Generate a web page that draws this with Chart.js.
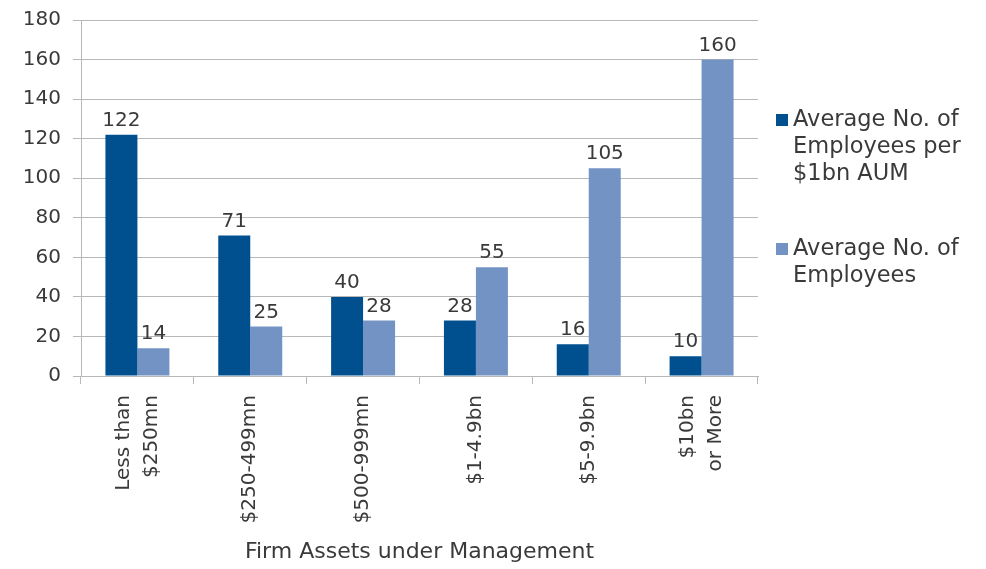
<!DOCTYPE html>
<html>
<head>
<meta charset="utf-8">
<script src="https://cdn.jsdelivr.net/npm/chart.js@4/dist/chart.umd.min.js"></script>
<style>
  html, body { margin: 0; padding: 0; background: #fff; }
  #wrap { position: relative; width: 986px; height: 569px; }
  #chart { position: absolute; left: 0; top: 0; }
  .leg { position: absolute; left: 776px; font-family: "DejaVu Sans", sans-serif; font-size: 22.5px; line-height: 27px; color: #3a3a3a; }
  .leg .box { position: absolute; left: 0; top: 9px; width: 12px; height: 12px; }
  .leg .txt { margin-left: 17px; white-space: nowrap; }
</style>
</head>
<body>
<div id="wrap">
  <canvas id="chart" width="986" height="569"></canvas>
  <div id="legend"></div>
</div>
<script>
const categories = [['Less than', '$250mn'], '$250-499mn', '$500-999mn', '$1-4.9bn', '$5-9.9bn', ['$10bn', 'or More']];
const perBillion = [122, 71, 40, 28, 16, 10];
const employees = [14, 25, 28, 55, 105, 160];
const seriesNames = [['Average No. of', 'Employees per', '$1bn AUM'], ['Average No. of', 'Employees']];
const colors = ['#00508F', '#7393C4'];
const axisTitle = 'Firm Assets under Management';

const textColor = '#3a3a3a';
const gridColor = '#b8b8b8';
const font = { family: '"DejaVu Sans", sans-serif', size: 20 };
const lineGap = 28;

// every label gets two lines so they all shift alike; one-line labels use half the line height
const xLabels = categories.map(c => Array.isArray(c) ? c : ['', c]);

// value labels above each bar
const valueLabels = {
    id: 'valueLabels',
    afterDatasetsDraw(chart) {
        const ctx = chart.ctx;
        ctx.save();
        ctx.font = '20px "DejaVu Sans", sans-serif';
        ctx.fillStyle = textColor;
        ctx.textAlign = 'center';
        ctx.textBaseline = 'alphabetic';
        chart.data.datasets.forEach((ds, i) => {
            chart.getDatasetMeta(i).data.forEach((bar, j) => {
                ctx.fillText(String(ds.data[j]), bar.x, bar.y - 9);
            });
        });
        ctx.restore();
    }
};

new Chart(document.getElementById('chart'), {
    type: 'bar',
    data: {
        labels: xLabels,
        datasets: [
            { label: seriesNames[0].join(' '), data: perBillion, backgroundColor: colors[0] },
            { label: seriesNames[1].join(' '), data: employees, backgroundColor: colors[1] }
        ]
    },
    options: {
        responsive: false,
        animation: false,
        layout: { padding: { left: 0, right: 228, top: 20, bottom: 0 } },
        datasets: { bar: { categoryPercentage: 0.567, barPercentage: 1.0 } },
        plugins: { legend: { display: false }, tooltip: { enabled: false } },
        scales: {
            x: {
                grid: { drawOnChartArea: false, color: gridColor, tickLength: 8, offset: true },
                border: { color: gridColor },
                ticks: {
                    color: textColor,
                    font: (ctx) => {
                        const two = Array.isArray(categories[ctx.index]);
                        return { ...font, lineHeight: (two ? lineGap : lineGap / 2) + 'px' };
                    },
                    labelOffset: -lineGap / 2,
                    minRotation: 90, maxRotation: 90, padding: 11, autoSkip: false
                },
                title: { display: true, text: axisTitle, color: textColor, font: { ...font, size: 22 }, padding: { top: 4, bottom: 4 } },
                afterFit(scale) { scale.height = 193; }
            },
            y: {
                min: 0,
                max: 180,
                ticks: { stepSize: 20, color: textColor, font: font, padding: 12 },
                grid: { color: gridColor, tickLength: 8 },
                border: { color: gridColor },
                afterFit(scale) {
                    scale.width = 81;
                    scale.paddingTop = 0;
                    scale.paddingBottom = 0;
                }
            }
        }
    },
    plugins: [valueLabels]
});

// legend with wrapped text, to the right of the plot
const legendTops = [105, 234];
const legend = document.getElementById('legend');
seriesNames.forEach((lines, i) => {
    const item = document.createElement('div');
    item.className = 'leg';
    item.style.top = legendTops[i] + 'px';
    item.innerHTML = '<div class="box" style="background:' + colors[i] + '"></div><div class="txt">' + lines.join('<br>') + '</div>';
    legend.appendChild(item);
});
</script>
</body>
</html>
